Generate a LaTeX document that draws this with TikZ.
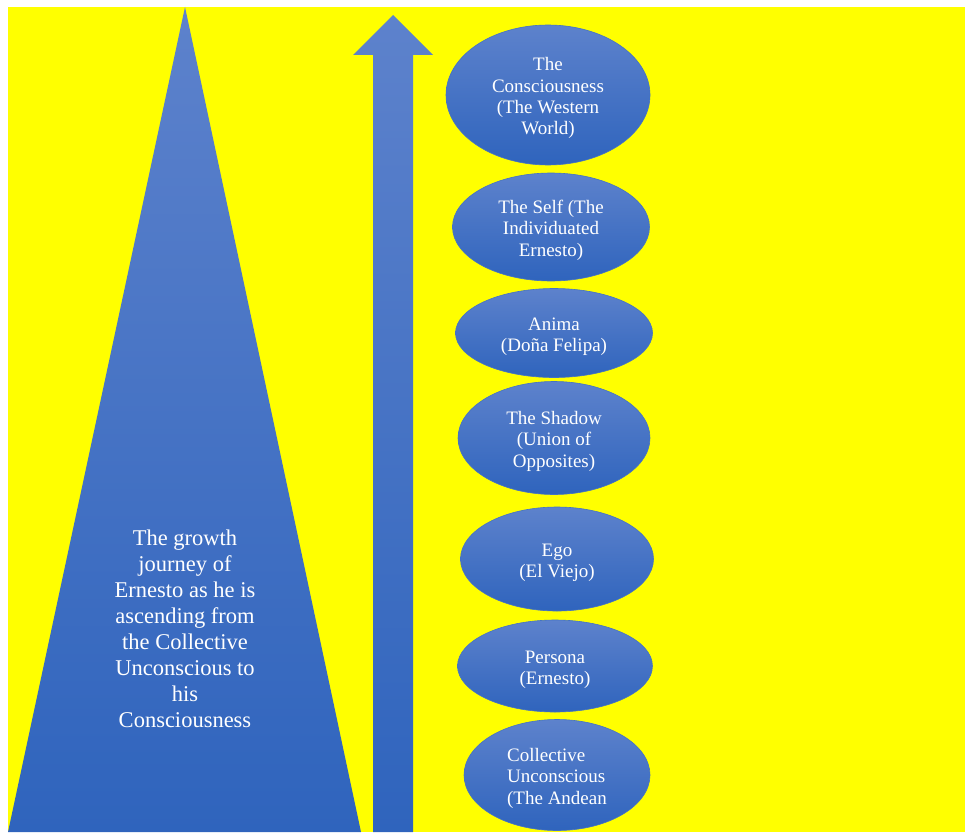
\documentclass[tikz,border=0pt]{standalone}
\usepackage{fontspec}
\setmainfont{Liberation Serif}
\usepackage{xcolor}
\usetikzlibrary{shapes.geometric}

\definecolor{bgyellow}{RGB}{255,255,0}
\definecolor{bluetop}{RGB}{93,130,204}
\definecolor{bluebot}{RGB}{47,100,189}
\definecolor{blueline}{RGB}{68,114,196}

% lines of an ellipse label, set a little lower than the centre
\newcommand{\stagetext}[2][c]{\raisebox{-3.5pt}[\height][\depth]{\begin{tabular}{@{}#1@{}}#2\end{tabular}}}

\begin{document}
\begin{tikzpicture}[x=1pt,y=-1pt]
	 \tikzstyle{stage}=[ellipse,inner sep=0pt,draw=blueline,line width=0.6pt,top color=bluetop,bottom color=bluebot,text=white,font=\fontsize{19}{21.3}\selectfont]
	 \tikzstyle{blueshade} = [top color=bluetop,bottom color=bluebot]

	 \useasboundingbox (0,0) rectangle (965,832);
	 \fill[bgyellow] (8,7) rectangle (965,832);

	 % the pyramid and the rising arrow
	 \shade[blueshade] (185,7) -- (361,832) -- (8,832) -- cycle;
	 \shade[blueshade] (393,15) -- (433,55) -- (413,55) -- (413,832) -- (373,832) -- (373,55) -- (353,55) -- cycle;

	 \node[text=white,align=center,font=\fontsize{22.5}{26}\selectfont] (journey) at (185,629) {The growth\\journey of\\Ernesto as he is\\ascending from\\the Collective\\Unconscious to\\his\\Consciousness};

	 \node[stage,minimum width=204pt,minimum height=140pt] (s7) at (548,95) {\stagetext{The\\Consciousness\\(The Western\\World)}};
	 \node[stage,minimum width=197pt,minimum height=108pt] (s6) at (551,227) {\stagetext{The Self (The\\Individuated\\Ernesto)}};
	 \node[stage,minimum width=197pt,minimum height=89pt] (s5) at (554,333) {\stagetext{Anima\\(Doña Felipa)}};
	 \node[stage,minimum width=192pt,minimum height=113pt] (s4) at (554,438) {\stagetext{The Shadow\\(Union of\\Opposites)}};
	 \node[stage,minimum width=193pt,minimum height=104pt] (s3) at (557,559) {\stagetext{Ego\\(El Viejo)}};
	 \node[stage,minimum width=195pt,minimum height=92pt] (s2) at (555,666) {\stagetext{Persona\\(Ernesto)}};
	 \node[stage,minimum width=186pt,minimum height=111pt] (s1) at (557,775) {\stagetext[l]{Collective\\Unconscious\\(The Andean}};
\end{tikzpicture}
\end{document}
